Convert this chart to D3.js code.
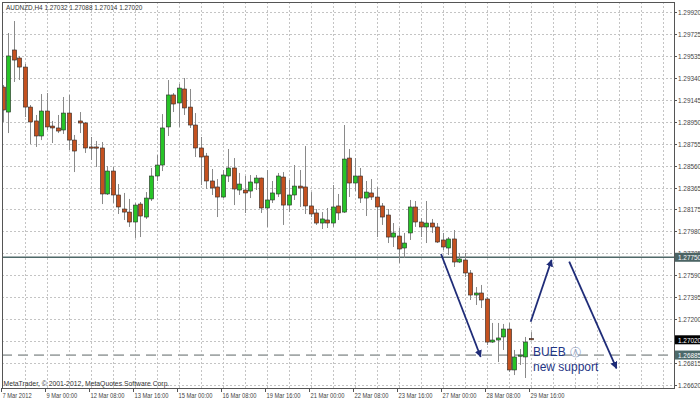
<!DOCTYPE html>
<html><head><meta charset="utf-8">
<script src="https://cdn.jsdelivr.net/npm/d3@7"></script>
<style>html,body{margin:0;padding:0;background:#fff;overflow:hidden}</style>
</head><body><svg id="c" width="700" height="400"></svg>
<script>
const symbolTitle = "AUDNZD,H4  1.27032 1.27088 1.27014 1.27020";
const copyright = "MetaTrader, \u00A9 2001-2012, MetaQuotes Software Corp.";
const open  = [1.29256,1.29035,1.29584,1.29513,1.29433,1.29079,1.28956,1.28823,1.29044,1.28911,
               1.28894,1.28876,1.29026,1.28787,1.28956,1.28938,1.28726,1.28726,1.28717,1.28310,
               1.28513,1.28301,1.28177,1.28150,1.28062,1.28221,1.28106,1.28266,1.28469,1.28566,
               1.28903,1.29186,1.29115,1.29239,1.29079,1.28920,1.28717,1.28646,1.28425,1.28372,
               1.28283,1.28469,1.28540,1.28345,1.28345,1.28336,1.28407,1.28451,1.28186,1.28257,
               1.28310,1.28460,1.28212,1.28301,1.28380,1.28372,1.28204,1.28142,1.28053,1.28080,
               1.28053,1.28204,1.28150,1.28628,1.28407,1.28469,1.28274,1.28319,1.28283,1.28204,
               1.28124,1.27929,1.27938,1.27832,1.27965,1.28195,1.28062,1.28018,1.28053,1.28018,
               1.27903,1.27832,1.27912,1.27708,1.27726,1.27611,1.27416,1.27434,1.27381,1.27000,
               1.27018,1.27045,1.27115,1.26753,1.26877,1.26868,1.27032];
const high  = [1.29274,1.29734,1.29840,1.29531,1.29460,1.29097,1.29009,1.29194,1.29203,1.28956,
               1.29009,1.29168,1.29186,1.28832,1.29035,1.28947,1.28814,1.28779,1.28770,1.28557,
               1.28549,1.28398,1.28319,1.28266,1.28230,1.28239,1.28327,1.28540,1.28655,1.29017,
               1.29318,1.29203,1.29283,1.29336,1.29239,1.29026,1.28814,1.28673,1.28531,1.28442,
               1.28522,1.28708,1.28628,1.28496,1.28469,1.28478,1.28478,1.28455,1.28522,1.28425,
               1.28496,1.28504,1.28434,1.28566,1.28522,1.28734,1.28327,1.28177,1.28150,1.28186,
               1.28389,1.28310,1.28920,1.28708,1.28628,1.28540,1.28425,1.28442,1.28372,1.28230,
               1.28177,1.28053,1.28009,1.27965,1.28257,1.28248,1.28097,1.28248,1.28089,1.28053,
               1.27965,1.27929,1.27991,1.27788,1.27788,1.27637,1.27487,1.27505,1.27399,1.27169,
               1.27169,1.27160,1.27169,1.26930,1.26938,1.27045,1.27088];
const low   = [1.28947,1.28849,1.29301,1.29318,1.28991,1.28752,1.28726,1.28787,1.28876,1.28761,
               1.28849,1.28841,1.28699,1.28504,1.28849,1.28673,1.28611,1.28549,1.28221,1.28301,
               1.28230,1.28133,1.28080,1.28018,1.27920,1.27929,1.28089,1.28248,1.28425,1.28513,
               1.28823,1.29035,1.28903,1.29009,1.28894,1.28637,1.28389,1.28354,1.28301,1.28106,
               1.28274,1.28416,1.28212,1.28301,1.28142,1.28274,1.28345,1.28142,1.28018,1.28230,
               1.28283,1.28036,1.28150,1.28257,1.28195,1.28133,1.28106,1.28036,1.28000,1.28009,
               1.28018,1.28080,1.28142,1.28283,1.28336,1.28230,1.28115,1.28257,1.27929,1.28036,
               1.27876,1.27841,1.27699,1.27744,1.27903,1.28018,1.27929,1.27876,1.27965,1.27876,
               1.27814,1.27770,1.27664,1.27699,1.27575,1.27372,1.27328,1.27301,1.26974,1.26992,
               1.26823,1.26930,1.26735,1.26708,1.26797,1.26682,1.27014];
const close = [1.29053,1.29531,1.29495,1.29433,1.29079,1.28947,1.28823,1.29044,1.28903,1.28894,
               1.28867,1.29026,1.28787,1.28690,1.28938,1.28717,1.28717,1.28717,1.28310,1.28513,
               1.28301,1.28195,1.28150,1.28062,1.28212,1.28115,1.28274,1.28469,1.28566,1.28894,
               1.29186,1.29106,1.29247,1.29071,1.28920,1.28717,1.28637,1.28425,1.28363,1.28283,
               1.28478,1.28540,1.28354,1.28398,1.28319,1.28416,1.28451,1.28186,1.28257,1.28319,
               1.28469,1.28212,1.28301,1.28380,1.28363,1.28204,1.28133,1.28053,1.28089,1.28053,
               1.28195,1.28142,1.28619,1.28407,1.28469,1.28274,1.28327,1.28283,1.28195,1.28106,
               1.27929,1.27965,1.27823,1.27876,1.28195,1.28062,1.28018,1.28053,1.28018,1.27885,
               1.27841,1.27912,1.27708,1.27735,1.27611,1.27416,1.27434,1.27372,1.27000,1.27018,
               1.27036,1.27115,1.26753,1.26868,1.26885,1.27000,1.27020];
const timeLabels = ["7 Mar 2012","9 Mar 00:00","12 Mar 08:00","13 Mar 16:00","15 Mar 00:00","16 Mar 08:00",
                    "19 Mar 16:00","21 Mar 00:00","22 Mar 08:00","23 Mar 16:00","27 Mar 00:00","28 Mar 08:00","29 Mar 16:00"];
const timeLabelBars = [0,8,16,24,32,40,48,56,64,72,80,88,96];
const priceTicks = [1.29920,1.29725,1.29535,1.29340,1.29145,1.28950,1.28755,1.28560,1.28365,1.28175,
                    1.27980,1.27785,1.27590,1.27395,1.27200,1.27005,1.26815,1.26620];
const resistanceLevel = 1.27750;
const supportLevel = 1.26885;
const lastPrice = 1.27020;
// annotation arrows in (bar, price) coordinates: [fromBar, fromPrice, toBar, toPrice]
const arrowBars   = [[79.7, 86.9], [96.0, 99.8], [103.0, 111.6]];
const arrowPrices = [[1.27779, 1.26870], [1.27180, 1.27726], [1.27711, 1.26768]];
const noteLines = ["BUEB", "new support"];
const noteSymbol = "\u24B6";

const svg = d3.select("#c");
const L = 2, R = 674, T = 2, B = 388;
const x = d3.scaleLinear().domain([0, 96]).range([2.7, 530.7]);
const y = d3.scaleLinear().domain([1.26620, 1.29920]).range([385, 12]);
const font = "'Liberation Sans', Arial, sans-serif";
const squeeze = (sel, k) => sel.each(function(){ const w = this.getComputedTextLength(); this.setAttribute("textLength", (w*k).toFixed(1)); this.setAttribute("lengthAdjust","spacingAndGlyphs"); });

svg.append("rect").attr("width",700).attr("height",400).attr("fill","#fff");
svg.append("defs").append("clipPath").attr("id","pc").append("rect")
  .attr("x",L).attr("y",T).attr("width",R-L).attr("height",B-T);
svg.select("defs").append("marker").attr("id","ah").attr("viewBox","0 0 10 10").attr("refX",9).attr("refY",5)
  .attr("markerWidth",4).attr("markerHeight",4).attr("orient","auto")
  .append("path").attr("d","M0,0L10,5L0,10z").attr("fill","#1f2c78");

const plot = svg.append("g").attr("clip-path","url(#pc)");
// grid
const vBars = d3.range(4, 124, 4);
plot.selectAll(".vg").data(vBars).join("line")
  .attr("x1",d=>Math.round(x(d))+0.5).attr("x2",d=>Math.round(x(d))+0.5).attr("y1",T).attr("y2",B)
  .attr("stroke","#c4c4c4").attr("stroke-dasharray","2,2");
plot.selectAll(".hg").data(priceTicks).join("line")
  .attr("x1",L).attr("x2",R).attr("y1",d=>Math.round(y(d))+0.5).attr("y2",d=>Math.round(y(d))+0.5)
  .attr("stroke","#c4c4c4").attr("stroke-dasharray","2,2");

// horizontal levels
plot.append("line").attr("x1",L).attr("x2",R).attr("y1",y(resistanceLevel)).attr("y2",y(resistanceLevel))
  .attr("stroke","#4f6868").attr("stroke-width",1.6);
plot.append("line").attr("x1",L).attr("x2",R).attr("y1",y(supportLevel)).attr("y2",y(supportLevel))
  .attr("stroke","#a3a8a8").attr("stroke-width",1.8).attr("stroke-dasharray","10,6");

// candles
const idx = d3.range(open.length);
plot.selectAll(".wick").data(idx).join("line")
  .attr("x1",i=>Math.round(x(i))+0.5).attr("x2",i=>Math.round(x(i))+0.5)
  .attr("y1",i=>y(high[i])).attr("y2",i=>y(low[i]))
  .attr("stroke","#8a8a8a").attr("stroke-width",1);
plot.selectAll(".body").data(idx).join("rect")
  .attr("x",i=>Math.round(x(i))-1.6).attr("width",4.2)
  .attr("y",i=>Math.min(y(open[i]),y(close[i])))
  .attr("height",i=>Math.max(1.2, Math.abs(y(open[i])-y(close[i]))))
  .attr("fill",i=>close[i]>=open[i] ? "#27c427" : "#c4511f")
  .attr("stroke","#2a2a2a").attr("stroke-width",0.6);

// frame
svg.append("rect").attr("x",L+0.5).attr("y",T+0.5).attr("width",R-L).attr("height",B-T)
  .attr("fill","none").attr("stroke","#555").attr("stroke-width",1);

// price axis
const pa = svg.append("g");
pa.selectAll("line").data(priceTicks).join("line")
  .attr("x1",R).attr("x2",R+3).attr("y1",d=>Math.round(y(d))+0.5).attr("y2",d=>Math.round(y(d))+0.5).attr("stroke","#555");
pa.selectAll("text").data(priceTicks).join("text")
  .attr("x",R+4).attr("y",d=>y(d)+3).attr("font-family",font).attr("font-size",8).attr("fill","#444")
  .text(d=>d.toFixed(5)).call(squeeze,0.8);
const boxes = [[resistanceLevel,"#4c6464"],[lastPrice,"#000"],[supportLevel,"#4c6a6a"]];
boxes.forEach(([p,c])=>{
  pa.append("rect").attr("x",R+1).attr("y",y(p)-4.5).attr("width",27).attr("height",9).attr("fill",c);
  pa.append("text").attr("x",R+4).attr("y",y(p)+3).attr("font-family",font).attr("font-size",8).attr("fill","#fff")
    .text(p.toFixed(5)).call(squeeze,0.8);
});

// time axis
const ta = svg.append("g");
ta.selectAll("line").data(timeLabelBars).join("line")
  .attr("x1",d=>Math.round(x(d))-1.5).attr("x2",d=>Math.round(x(d))-1.5).attr("y1",B).attr("y2",B+4).attr("stroke","#555");
ta.selectAll("text").data(timeLabels).join("text")
  .attr("x",(d,i)=>Math.round(x(timeLabelBars[i]))-0.5).attr("y",398)
  .attr("font-family",font).attr("font-size",8).attr("fill","#444").text(d=>d).call(squeeze,0.72);

// title & copyright
svg.append("text").attr("x",6).attr("y",10).attr("font-family",font).attr("font-size",8).attr("fill","#333")
  .text(symbolTitle).call(squeeze,0.8);
svg.append("text").attr("x",3.5).attr("y",386).attr("font-family",font).attr("font-size",8).attr("fill","#333")
  .text(copyright).call(squeeze,0.85);

// arrows
arrowBars.forEach((b,i)=>{
  svg.append("line").attr("x1",x(b[0])).attr("y1",y(arrowPrices[i][0]))
    .attr("x2",x(b[1])).attr("y2",y(arrowPrices[i][1]))
    .attr("stroke","#1f2c78").attr("stroke-width",1.8).attr("marker-end","url(#ah)");
});
// note
const nt = svg.append("text").attr("x",533).attr("y",356).attr("font-family",font).attr("font-size",12).attr("fill","#1f3585");
nt.append("tspan").text(noteLines[0]);
nt.append("tspan").attr("dx",4).attr("fill","#8fa0c0").attr("font-size",11).text(noteSymbol);
svg.append("text").attr("x",533).attr("y",371).attr("font-family",font).attr("font-size",12).attr("fill","#1f3585")
  .text(noteLines[1]);
</script></body></html>
